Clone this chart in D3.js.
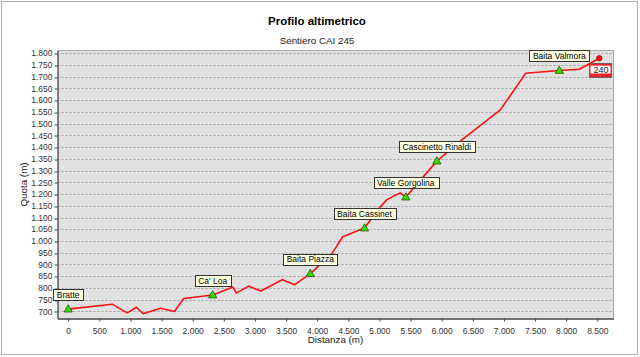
<!DOCTYPE html>
<html><head><meta charset="utf-8">
<script src="https://cdn.jsdelivr.net/npm/d3@7/dist/d3.min.js"></script>
<style>
html,body{margin:0;padding:0;background:#fff;}
svg{display:block;font-family:"Liberation Sans",Arial,sans-serif;}
</style></head>
<body>
<svg id="chart" width="640" height="357"></svg>
<script>
// Profile data: distance (m) and elevation (m)
const distance  = [0, 706, 947, 1096, 1204, 1481, 1706, 1855, 2321, 2648, 2701, 2898, 3094, 3439, 3640, 3889, 4237, 4410, 4760, 5012, 5120, 5333, 5424, 5922, 6349, 6938, 7350, 7890, 8211, 8532];
const elevation = [710, 731, 694, 718, 690, 714, 700, 755, 770, 804, 778, 808, 787, 835, 814, 861, 946, 1018, 1055, 1145, 1176, 1205, 1187, 1340, 1436, 1557, 1714, 1726, 1731, 1778];

// Waypoints
const waypointNames = ["Bratte", "Ca' Loa", "Baita Piazza", "Baita Cassinet", "Valle Gorgolina", "Cascinetto Rinaldi", "Baita Valmora"];
const waypointDist  = [0, 2321, 3889, 4760, 5424, 5922, 7890];
const waypointElev  = [710, 770, 861, 1055, 1187, 1340, 1726];

// End point and trail number
const endDist = [8532];
const endElev = [1778];
const trailNumber = ["240"];

// Ticks
const xTicks = [0,500,1000,1500,2000,2500,3000,3500,4000,4500,5000,5500,6000,6500,7000,7500,8000,8500];
const yTicks = [700,750,800,850,900,950,1000,1050,1100,1150,1200,1250,1300,1350,1400,1450,1500,1550,1600,1650,1700,1750,1800];

const title = "Profilo altimetrico";
const subtitle = "Sentiero CAI 245";
const xTitle = "Distanza (m)";
const yTitle = "Quota (m)";

const svg = d3.select("#chart");
const L = 57.5, R = 613.5, T = 50.5, B = 318.5;

const locale = d3.formatLocale({decimal:",", thousands:".", grouping:[3], currency:["",""]});
const fmt = locale.format(",d");

const x = d3.scaleLinear().domain([-172, 8760]).range([L, R]);
const y = d3.scaleLinear().domain([670, 1811]).range([B, T]);

// Outer border
svg.append("rect").attr("x",1.5).attr("y",1.5).attr("width",636).attr("height",353)
  .attr("fill","#fff").attr("stroke","#b0b0b0").attr("stroke-width",1);

// Titles
svg.append("text").attr("x",317).attr("y",25).attr("text-anchor","middle")
  .attr("font-size","11.5px").attr("font-weight","bold").attr("fill","#000").text(title);
svg.append("text").attr("x",317).attr("y",44).attr("text-anchor","middle")
  .attr("font-size","9.8px").attr("fill","#222").text(subtitle);

// Plot background
svg.append("rect").attr("x",L).attr("y",T).attr("width",R-L).attr("height",B-T)
  .attr("fill","#e1e1e1");

// Grid lines
svg.append("g").selectAll("line").data(yTicks).join("line")
  .attr("x1",L).attr("x2",R)
  .attr("y1",d=>Math.round(y(d))+0.5).attr("y2",d=>Math.round(y(d))+0.5)
  .attr("stroke","#a0a0a0").attr("stroke-dasharray","2,2").attr("stroke-width",1);

// Plot frame top/right
svg.append("path").attr("d",`M${L},${T}H${R}V${B}`).attr("fill","none")
  .attr("stroke","#a8a8a8").attr("stroke-width",1);

// Axes
const yAxis = d3.axisLeft(y).tickValues(yTicks).tickFormat(fmt).tickSize(3).tickPadding(2).tickSizeOuter(0);
const gy = svg.append("g").attr("transform",`translate(${L},0)`).call(yAxis);
const xAxis = d3.axisBottom(x).tickValues(xTicks).tickFormat(fmt).tickSize(3).tickPadding(6).tickSizeOuter(0);
const gx = svg.append("g").attr("transform",`translate(0,${B})`).call(xAxis);
[gx, gy].forEach(g => {
  g.select(".domain").attr("stroke","#444").attr("stroke-width",1.3);
  g.selectAll(".tick line").attr("stroke","#444");
  g.selectAll(".tick text").attr("font-size","8.5px").attr("fill","#333")
    .attr("font-family","'Liberation Sans',Arial,sans-serif");
});
gy.selectAll(".tick line").attr("transform", d => `translate(0,${Math.round(y(d))+0.5-y(d)})`);

// Axis titles
svg.append("text").attr("x",(L+R)/2).attr("y",343).attr("text-anchor","middle")
  .attr("font-size","9.8px").attr("fill","#222").text(xTitle);
svg.append("text").attr("transform",`translate(27,${(T+B)/2}) rotate(-90)`).attr("text-anchor","middle")
  .attr("font-size","9.8px").attr("fill","#222").text(yTitle);

// Profile line
const line = d3.line().x((d,i)=>x(distance[i])).y((d,i)=>y(elevation[i]));
svg.append("path").datum(distance).attr("d",line).attr("fill","none")
  .attr("stroke","#ff1010").attr("stroke-width",1.6).attr("stroke-linejoin","round");

// Waypoint markers
const tri = d3.symbol().type(d3.symbolTriangle).size(30);
svg.append("g").selectAll("path").data(waypointNames).join("path")
  .attr("d",tri)
  .attr("transform",(d,i)=>`translate(${x(waypointDist[i])},${y(waypointElev[i])+0.5})`)
  .attr("fill","#33dd00").attr("stroke","#225500").attr("stroke-width",0.8);

// Waypoint labels
const lg = svg.append("g");
waypointNames.forEach((name,i)=>{
  const cx = x(waypointDist[i]), cy = y(waypointElev[i]);
  const g = lg.append("g");
  const t = g.append("text").attr("x",cx).attr("y",cy-11.5).attr("text-anchor","middle")
    .attr("font-size","8.5px").attr("fill","#000").text(name);
  const w = t.node().getComputedTextLength() + 7;
  g.insert("rect","text").attr("x",Math.round(cx-w/2)+0.5).attr("y",Math.round(cy-20)+0.5)
    .attr("width",Math.round(w)).attr("height",11)
    .attr("fill","#ffffe1").attr("stroke","#333").attr("stroke-width",1);
});

// End point
svg.append("g").selectAll("circle").data(endDist).join("circle")
  .attr("cx",(d,i)=>x(d)).attr("cy",(d,i)=>y(endElev[i])).attr("r",2.8)
  .attr("fill","#ee1111").attr("stroke","#880000").attr("stroke-width",0.6);

// Trail number badge
trailNumber.forEach(n=>{
  const bx = 589.5, by = 63.5, bw = 22, bh = 14;
  svg.append("rect").attr("x",bx).attr("y",by).attr("width",bw).attr("height",bh)
    .attr("fill","#e8262a").attr("stroke","#555").attr("stroke-width",0.8);
  svg.append("rect").attr("x",bx+1).attr("y",by+2.2).attr("width",bw-2).attr("height",bh-6.2)
    .attr("fill","#fff");
  svg.append("text").attr("x",bx+bw/2+0.5).attr("y",by+9.6).attr("text-anchor","middle")
    .attr("font-size","9px").attr("fill","#222").text(n);
});
</script>
</body></html>
